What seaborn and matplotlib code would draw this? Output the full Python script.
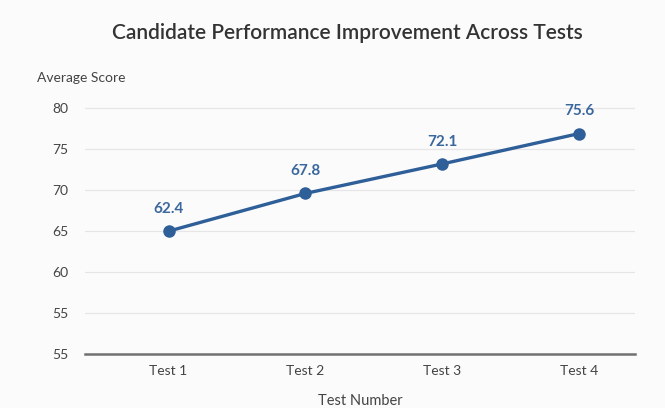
import numpy as np
import pandas as pd
import matplotlib.pyplot as plt
import seaborn as sns

# values as drawn on the chart (positions) and the value labels printed above them
tests = ['Test 1', 'Test 2', 'Test 3', 'Test 4']
plotted_scores = [65.0, 69.6, 73.2, 76.9]
label_scores = [62.4, 67.8, 72.1, 75.6]
ytick_values = [50, 55, 60, 65, 70, 75, 80]
ytick_labels = ['55', '55', '60', '65', '70', '75', '80']

sns.set_style('white')
plt.rcParams['font.family'] = ['Lato', 'DejaVu Sans']

bg = '#fbfbfc'
line_col = '#2f5f98'
label_col = '#3a679c'

df = pd.DataFrame({'test': tests, 'score': plotted_scores})

fig = plt.figure(figsize=(6.65, 4.08), dpi=100, facecolor=bg)
ax = fig.add_axes([0.128, 0.132, 0.827, 0.633])
ax.set_facecolor(bg)

sns.lineplot(data=df, x='test', y='score', ax=ax, color=line_col, linewidth=2.4,
             marker='o', markersize=9, markeredgewidth=0, sort=False)

for i, (v, lab) in enumerate(zip(plotted_scores, label_scores)):
    ax.annotate(f'{lab:.1f}', (i, v), xytext=(0, 11), textcoords='offset points',
                ha='center', va='bottom', fontsize=11, fontweight='bold', color=label_col)

ax.set_xlim(-0.61, 3.41)
ax.set_ylim(50, 81.5)
ax.set_yticks(ytick_values)
ax.set_yticklabels(ytick_labels)
for y in ytick_values[1:]:
    ax.axhline(y, color='#e6e6e8', linewidth=0.9, zorder=0)

for s in ['top', 'right', 'left']:
    ax.spines[s].set_visible(False)
ax.spines['bottom'].set_color('#707070')
ax.spines['bottom'].set_linewidth(1.8)

ax.tick_params(axis='both', length=0, labelsize=10, labelcolor='#444444', pad=8)
ax.tick_params(axis='y', pad=12)
ax.set_xlabel('Test Number', fontsize=10.5, color='#444444', labelpad=12)
ax.set_ylabel('')
fig.text(0.055, 0.808, 'Average Score', fontsize=10, color='#444444', va='center')
fig.text(0.522, 0.918, 'Candidate Performance Improvement Across Tests', fontsize=15,
         color='#333333', ha='center', va='center', fontweight='semibold')

fig.savefig('out.png', dpi=100, facecolor=bg)
